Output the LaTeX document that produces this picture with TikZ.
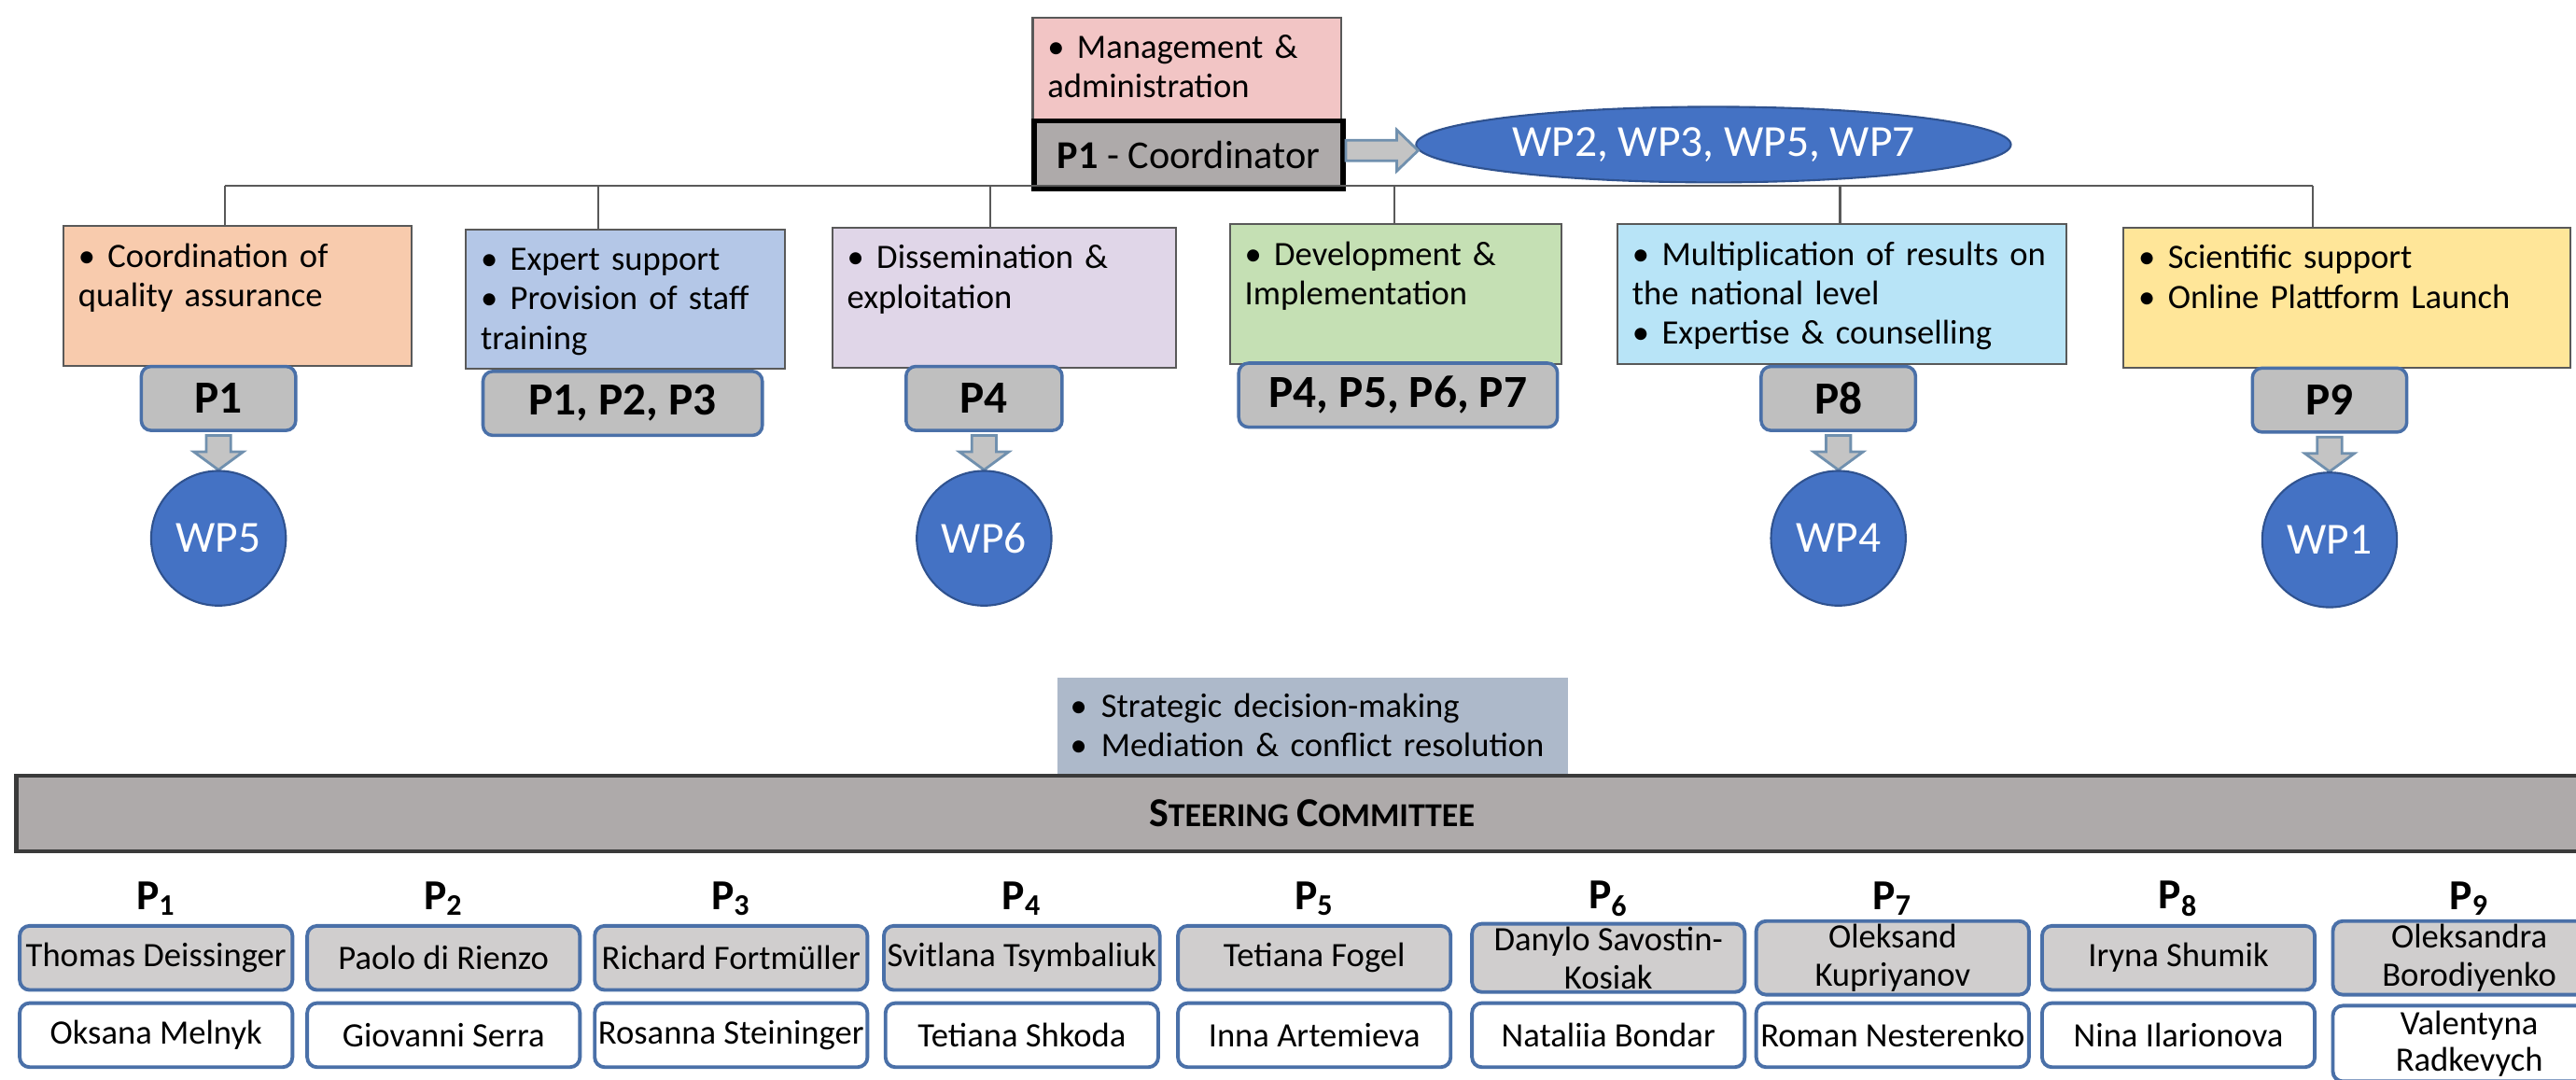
\documentclass[tikz,border=0pt]{standalone}
\usepackage{fontspec}
\setmainfont{Carlito}
\usetikzlibrary{positioning,calc,shapes.geometric}

\definecolor{lineGray}{HTML}{595959}
\definecolor{mgmtPink}{HTML}{F2C5C5}
\definecolor{coordGray}{HTML}{AEAAAA}
\definecolor{qaOrange}{HTML}{F8CBAD}
\definecolor{trainBlue}{HTML}{B4C7E7}
\definecolor{disLilac}{HTML}{E0D6E8}
\definecolor{devGreen}{HTML}{C5E0B4}
\definecolor{multCyan}{HTML}{B8E4F7}
\definecolor{sciYellow}{HTML}{FFE699}
\definecolor{pGray}{HTML}{BFBFBF}
\definecolor{pBlue}{HTML}{4A70A8}
\definecolor{wpBlue}{HTML}{4472C4}
\definecolor{wpLine}{HTML}{2F528F}
\definecolor{arrGray}{HTML}{C4C4C4}
\definecolor{arrLine}{HTML}{7090AE}
\definecolor{stratBlue}{HTML}{ADB9CA}
\definecolor{barLine}{HTML}{3A3A3A}
\definecolor{nameGray}{HTML}{D0CECE}

% bullet item with hanging indent; \par\bul starts the next one
\newcommand{\bul}[1][9pt]{\hangindent=#1\hangafter=1\noindent\makebox[#1][l]{\textbullet}}
\newcommand{\capword}[2]{{\fontsize{12.5}{13}\selectfont #1}#2}
\newcommand{\blockdown}[1]{\draw[blockarr] (#1.south) ++(-7.5,2) -- ++(15,0) -- ++(0,10) -- ++(7.5,0) -- ++(-15,11) -- ++(-15,-11) -- ++(7.5,0) -- cycle;}

\begin{document}
\begin{tikzpicture}[x=.5pt,y=-.5pt,
 task/.style={draw=lineGray,line width=.6pt,anchor=north west,align=left,inner xsep=4.5pt,inner ysep=4pt,text height=8.5pt,text depth=26pt,font=\fontsize{10.4}{12}\selectfont},
 pbox/.style={draw=pBlue,fill=pGray,rounded corners=3pt,line width=1pt,anchor=north,minimum height=19.5pt,inner sep=1pt,font=\fontsize{14}{14}\selectfont\bfseries},
 wp/.style={circle,fill=wpBlue,draw=wpLine,line width=.6pt,text=white,minimum size=41pt,inner sep=0pt,font=\fontsize{13.5}{14}\selectfont},
 blockarr/.style={fill=arrGray,draw=arrLine,line width=.8pt,line join=miter},
 bus/.style={lineGray,line width=.6pt},
 who/.style={draw=pBlue,rounded corners=3pt,line width=1.1pt,align=center,minimum width=83pt,minimum height=19.5pt,inner sep=1pt,font=\fontsize{10.4}{11.5}\selectfont},
 plab/.style={font=\fontsize{13}{13}\selectfont\bfseries}]
\useasboundingbox (0,0) rectangle (1568,657);
\clip (0,0) rectangle (1568,657);

% coordinator on top
\node[task,fill=mgmtPink,text width=85pt,text depth=14.5pt] (mgmt) at (628,10) {\bul Management \&\\administration};
\node[draw=black,line width=1.6pt,fill=coordGray,anchor=north west,minimum width=94pt,minimum height=20.5pt,inner sep=0pt,font=\fontsize{12}{12}\selectfont] (coord) at (628,72) {\textbf{P1} - Coordinator};
\node[ellipse,fill=wpBlue,draw=wpLine,line width=.6pt,minimum width=181pt,minimum height=23pt,inner sep=0pt,text=white,font=\fontsize{13.5}{14}\selectfont] (wpall) at (1043,88) {WP2, WP3, WP5, WP7};
\draw[blockarr] ($(coord.east)+(0,-2.5)$) ++(0,-6.25) -- ++(31,0) -- ++(0,-6.25) -- ++(13,12.5) -- ++(-13,12.5) -- ++(0,-6.25) -- ++(-31,0) -- cycle;

% work package tasks
\node[task,fill=qaOrange,text width=97pt] (qa) at (38,137) {\bul Coordination of\\quality assurance};
\node[task,fill=trainBlue,text width=88pt] (train) at (283,139) {\bul Expert support\par\bul Provision of staff\\training};
\node[task,fill=disLilac,text width=95.5pt] (dis) at (506,138) {\bul Dissemination \&\\exploitation};
\node[task,fill=devGreen,text width=92pt] (dev) at (748,136) {\bul Development \&\\Implementation};
\node[task,fill=multCyan,text width=127.5pt] (mult) at (984,136) {\bul Multiplication of results on\\the national level\par\bul Expertise \& counselling};
\node[task,fill=sciYellow,text width=127pt] (sci) at (1292,138) {\bul Scientific support\par\bul Online Plattform Launch};

\node[pbox,minimum width=47pt] (p1) at (133,222) {P1};
\node[pbox,minimum width=85pt] (p123) at (379,225) {P1, P2, P3};
\node[pbox,minimum width=47.5pt] (p4) at (599,222) {P4};
\node[pbox,minimum width=97pt] (p4567) at (851,220) {P4, P5, P6, P7};
\node[pbox,minimum width=47pt] (p8) at (1119,222) {P8};
\node[pbox,minimum width=47pt] (p9) at (1418,223) {P9};

\foreach \p/\w in {p1/WP5,p4/WP6,p8/WP4,p9/WP1}{
 \blockdown{\p}
 \node[wp,below=11.5pt of \p] (\w) {\w};
}

% bus line
\foreach \d/\b in {137/qa,364/train,603/dis,849/dev,1120/mult,1408/sci}{
 \coordinate (top-\b) at (\d,113);
 \draw[bus] (top-\b) -- (top-\b |- \b.north);
}
\draw[bus] (top-qa) -- (top-sci);

% steering committee
\node[fill=stratBlue,anchor=north west,text width=147.5pt,align=left,inner xsep=4pt,inner ysep=4pt,text height=8pt,text depth=14pt,font=\fontsize{10.4}{12}\selectfont] (strat) at (643,412) {\bul[6pt] Strategic decision-making\par\bul[6pt] Mediation \& conflict resolution};
\node[draw=barLine,line width=1.2pt,fill=coordGray,minimum width=788.5pt,minimum height=23pt,inner sep=0pt,font=\fontsize{10.2}{12}\selectfont\bfseries] (steer) at (798.5,495) {\capword{S}{TEERING} \capword{C}{OMMITTEE}};

\foreach \lx/\k/\chief/\deputy in {12/1/{Thomas Deissinger}/{Oksana Melnyk},187/2/{Paolo di Rienzo}/{Giovanni Serra},362/3/{Richard Fortmüller}/{Rosanna Steininger},539/4/{Svitlana Tsymbaliuk}/{Tetiana Shkoda},717/5/{Tetiana Fogel}/{Inna Artemieva},896/6/{Danylo Savostin-\\Kosiak}/{Nataliia Bondar},1069/7/{Oleksand\\Kupriyanov}/{Roman Nesterenko},1243/8/{Iryna Shumik}/{Nina Ilarionova}}{
 \node[plab] (lab\k) at (\lx+83,547) {P\textsubscript{\k}};
 \node[who,fill=nameGray] (lead\k) at (\lx+83,583) {\chief};
 \node[who,fill=white] (dep\k) at (\lx+83,630) {\deputy};
}
\node[plab] (lab9) at (1503,547) {P\textsubscript{9}};
\node[who,fill=nameGray] (lead9) at (1503,583) {Oleksandra\\Borodiyenko};
\node[who,fill=white,minimum height=23pt,anchor=north,font=\fontsize{10.4}{11}\selectfont] (dep9) at (1503,611) {Valentyna\\Radkevych};
\end{tikzpicture}
\end{document}
